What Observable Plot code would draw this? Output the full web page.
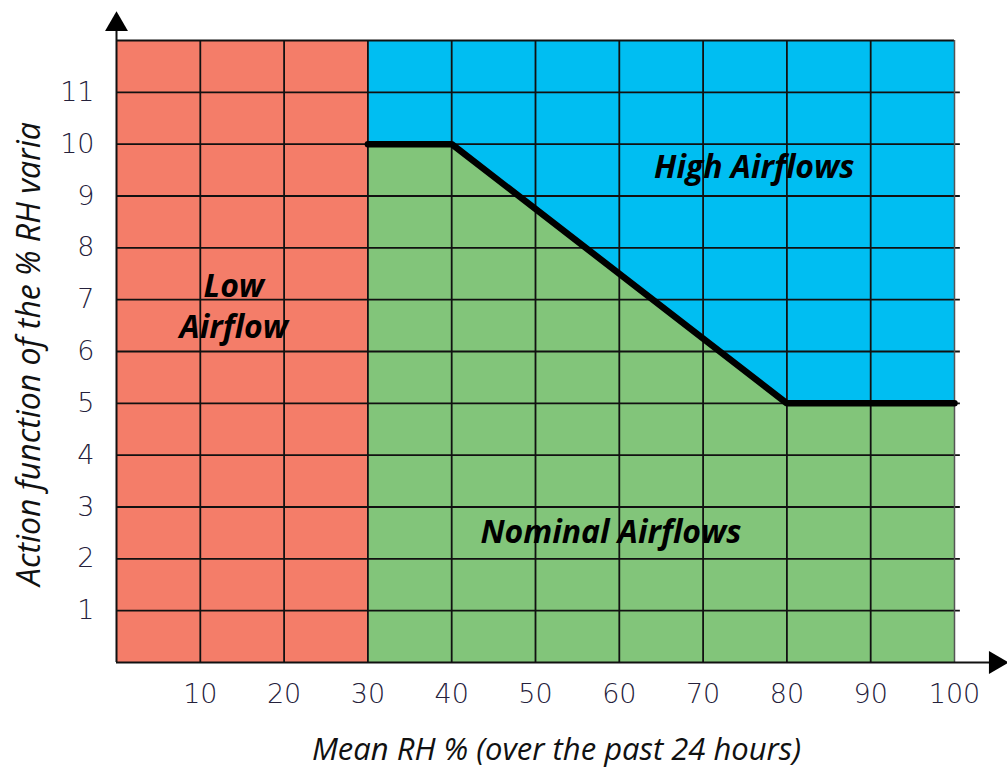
<!DOCTYPE html>
<html>
<head>
<meta charset="utf-8">
<script src="https://cdn.jsdelivr.net/npm/d3@7"></script>
<script src="https://cdn.jsdelivr.net/npm/@observablehq/plot@0.6"></script>
<style>
  html, body { margin: 0; padding: 0; background: #fff; }
  #chart svg { display: block; overflow: visible; }
</style>
</head>
<body>
<div id="chart"></div>
<script>
const xTicks = [10, 20, 30, 40, 50, 60, 70, 80, 90, 100];
const yTicks = [1, 2, 3, 4, 5, 6, 7, 8, 9, 10, 11];
const gridX = [10, 20, 30, 40, 50, 60, 70, 80, 90];
const gridY = [1, 2, 3, 4, 5, 6, 7, 8, 9, 10, 11];
const thresholdX = [30, 40, 80, 100];
const thresholdY = [10, 10, 5, 5];
const zones = [
  {name: "low", x1: 0, x2: 30, y1: 0, y2: 12, color: "#F47D69"},
  {name: "high", x1: 30, x2: 100, y1: 0, y2: 12, color: "#00BEF2"}
];
const labels = [
  {text: "High Airflows", x: 76.1, y: 9.55},
  {text: "Nominal Airflows", x: 59, y: 2.5},
  {text: "Low", x: 14, y: 7.25},
  {text: "Airflow", x: 14, y: 6.45}
];
const xTitle = "Mean RH % (over the past 24 hours)";
const yTitle = "Action function of the % RH varia";

const curve = thresholdX.map((x, i) => ({x, y: thresholdY[i]}));

const chart = Plot.plot({
  width: 1007,
  height: 769,
  marginLeft: 116,
  marginRight: 53,
  marginTop: 40,
  marginBottom: 107,
  x: {domain: [0, 100], axis: null},
  y: {domain: [0, 12], axis: null},
  style: {background: "transparent", overflow: "visible"},
  marks: [
    Plot.rect(zones, {x1: "x1", x2: "x2", y1: "y1", y2: "y2", fill: "color"}),
    Plot.areaY(curve, {x: "x", y1: 0, y2: "y", fill: "#82C57A"}),
    Plot.ruleX(gridX, {y1: 0, y2: 12, stroke: "#111", strokeWidth: 1.8}),
    Plot.ruleY(gridY, {x1: 0, x2: 100.7, stroke: "#111", strokeWidth: 1.8}),
    Plot.ruleY([12], {x1: 0, x2: 100, stroke: "#111", strokeWidth: 1.8}),
    Plot.ruleX([100], {y1: 0, y2: 12, stroke: "#555", strokeWidth: 1.5}),
    Plot.line(curve, {x: "x", y: "y", stroke: "#000", strokeWidth: 6.5, strokeLinejoin: "miter"}),
    // axes lines with arrows
    Plot.ruleX([0], {y1: 0, y2: 12.3, stroke: "#111", strokeWidth: 2, clip: false}),
    Plot.ruleY([0], {x1: 0, x2: 104.9, stroke: "#111", strokeWidth: 2, clip: false}),
    Plot.dot([{x: 0, y: 12.31}], {x: "x", y: "y", symbol: "triangle", r: 8.5, fill: "#000", stroke: "none", clip: false}),
    Plot.dot([{x: 104.9, y: 0}], {x: "x", y: "y", symbol: "triangle", r: 8.5, fill: "#000", stroke: "none", rotate: 90, clip: false}),
    // tick labels
    Plot.text(xTicks, {x: d => d, y: 0, text: d => String(d), dy: 32, fontSize: 27, fill: "#25213b", fontFamily: "DejaVu Sans", fontWeight: 300}),
    Plot.text(yTicks, {x: 0, y: d => d, text: d => String(d), dx: -22, textAnchor: "end", fontSize: 27, fill: "#25213b", fontFamily: "DejaVu Sans", fontWeight: 300}),
    // region labels
    Plot.text(labels, {x: "x", y: "y", text: "text", fontSize: 32, fontWeight: "bold", fontStyle: "italic", fill: "#000", fontFamily: "Open Sans"}),
    // axis titles
    Plot.text([xTitle], {x: 52.5, y: 0, text: d => d, dy: 88, fontSize: 31, fontStyle: "italic", fill: "#111", fontFamily: "Open Sans", clip: false}),
    Plot.text([yTitle], {x: 0, y: 5.95, text: d => d, dx: -87, rotate: -90, fontSize: 32, fontStyle: "italic", fill: "#111", fontFamily: "Open Sans", clip: false})
  ]
});

document.getElementById("chart").appendChild(chart);
</script>
</body>
</html>
